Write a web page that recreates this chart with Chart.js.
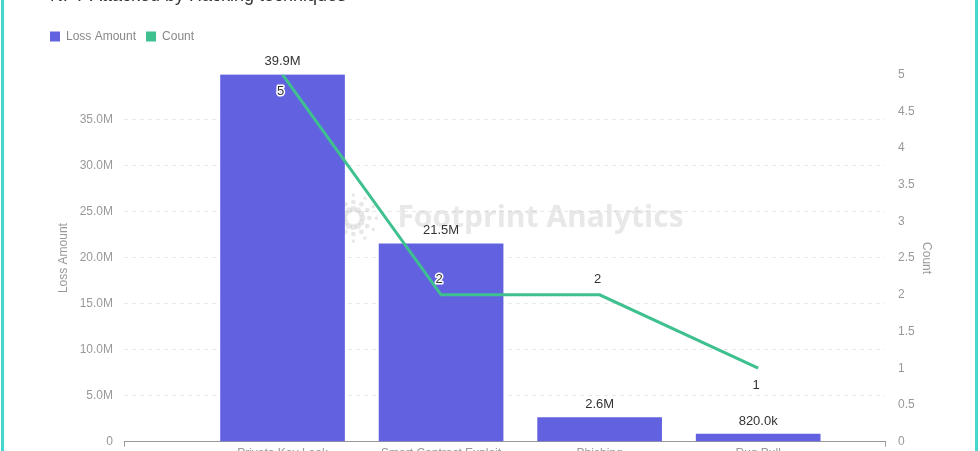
<!DOCTYPE html>
<html>
<head>
<meta charset="utf-8">
<script src="https://cdn.jsdelivr.net/npm/chart.js@4"></script>
<style>
  html, body { margin: 0; padding: 0; width: 980px; height: 451px; overflow: hidden; background: #fff; }
  #wrap { position: absolute; left: 0; top: -20px; width: 980px; height: 520px; }
  #frame { position: absolute; left: 1px; top: -12px; width: 971px; height: 470px; border: 3px solid #45d6cf; border-radius: 10px; pointer-events: none; }
</style>
</head>
<body>
<div id="wrap"><canvas id="chart" width="980" height="520"></canvas></div>
<div id="frame"></div>
<script>
// --- data ---
const categories = ['Private Key Leak', 'Smart Contract Exploit', 'Phishing', 'Rug Pull'];
const lossAmount = [39900000, 21500000, 2600000, 820000];
const counts = [5, 2, 2, 1];
const amountStep = 5000000;
const countLabelSide = ['below', 'above', 'above', 'below'];

Chart.defaults.font.family = '"Liberation Sans", Arial, sans-serif';
Chart.defaults.color = '#999';

const fmtAmount = v => v >= 1e6 ? (v / 1e6).toFixed(1) + 'M' : v >= 1e3 ? (v / 1e3).toFixed(1) + 'k' : String(v);

// watermark behind the series
const watermark = {
    id: 'watermark',
    afterLayout(chart) {
        // title sits a bit right of the legend in the original
        chart.titleBlock.left += 10;
    },
    beforeDatasetsDraw(chart) {
        const { ctx, chartArea: a } = chart;
        const cx = (a.left + a.right) / 2, cy = (a.top + a.bottom) / 2 - 40;
        const text = 'Footprint Analytics';
        ctx.save();
        ctx.font = 'bold 30px "Open Sans", sans-serif';
        const w = ctx.measureText(text).width;
        const x0 = cx - (w + 72) / 2;
        ctx.fillStyle = 'rgba(190,190,190,0.35)';
        ctx.textBaseline = 'middle';
        ctx.fillText(text, x0 + 72, cy);
        const lx = x0 + 28, ly = cy;
        for (let k = 0; k < 12; k++) {
            const ang = k * Math.PI / 6;
            [9, 16, 23].forEach((r, j) => {
                ctx.beginPath();
                ctx.arc(lx + Math.cos(ang) * r, ly + Math.sin(ang) * r, 3 - j * 0.6, 0, Math.PI * 2);
                ctx.fill();
            });
        }
        ctx.restore();
    }
};

// value labels on bars and line
const valueLabels = {
    id: 'valueLabels',
    afterDatasetsDraw(chart) {
        const ctx = chart.ctx;
        ctx.save();
        ctx.font = '13px "Liberation Sans", Arial, sans-serif';
        ctx.textAlign = 'center';
        ctx.textBaseline = 'middle';
        chart.getDatasetMeta(0).data.forEach((bar, i) => {
            ctx.fillStyle = '#333';
            ctx.fillText(fmtAmount(lossAmount[i]), bar.x, bar.y - 13);
        });
        chart.getDatasetMeta(1).data.forEach((pt, i) => {
            const y = pt.y + (countLabelSide[i] === 'below' ? 17 : -15);
            ctx.lineWidth = 3;
            ctx.lineJoin = 'round';
            ctx.strokeStyle = '#fff';
            ctx.strokeText(String(counts[i]), pt.x - 2, y);
            ctx.fillStyle = '#333';
            ctx.fillText(String(counts[i]), pt.x - 2, y);
        });
        ctx.restore();
    }
};

new Chart(document.getElementById('chart'), {
    data: {
        datasets: [
            {
                type: 'bar', label: 'Loss Amount', yAxisID: 'y', order: 2,
                data: lossAmount.map((v, i) => ({ x: i + 1, y: v })),
                backgroundColor: '#6262e1', barThickness: 124
            },
            {
                type: 'line', label: 'Count', yAxisID: 'y1', order: 1,
                data: counts.map((v, i) => ({ x: i + 1, y: v })),
                borderColor: '#3ec08f', backgroundColor: '#3ec08f', borderWidth: 3, pointRadius: 0, tension: 0
            }
        ]
    },
    options: {
        responsive: false,
        animation: false,
        layout: { padding: { left: 40, right: 41, top: 0, bottom: 39 } },
        plugins: {
            title: {
                display: true, text: 'NFT Attacked by Hacking techniques', align: 'start',
                color: '#333', font: { size: 18, weight: 'normal' }, padding: { top: 5, bottom: 14 }
            },
            subtitle: { display: true, text: '', weight: 500, font: { size: 10, lineHeight: 1 }, padding: { top: 0, bottom: 12 } },
            legend: {
                align: 'start',
                labels: {
                    boxWidth: 10, boxHeight: 10, color: '#888', font: { size: 12 }, padding: 10,
                    generateLabels: chart => Chart.defaults.plugins.legend.labels.generateLabels(chart).map(l => ({ ...l, lineWidth: 0 })),
                    sort: (a, b) => a.datasetIndex - b.datasetIndex
                }
            },
            tooltip: { enabled: false }
        },
        scales: {
            x: {
                type: 'linear', offset: false, min: 0, max: categories.length + 0.8,
                afterBuildTicks: s => { s.ticks = [0, ...categories.map((c, i) => i + 1), categories.length + 0.8].map(v => ({ value: v })); },
                ticks: { callback: v => categories[v - 1] ?? '', autoSkip: false, maxRotation: 0, color: '#999', padding: 0 },
                grid: { offset: false, drawOnChartArea: false, tickLength: 5, color: c => (c.index === 0 || c.index === categories.length + 1) ? '#999' : 'rgba(0,0,0,0)' },
                border: { color: '#999' }
            },
            y: {
                position: 'left', min: 0, max: Math.max(...lossAmount),
                afterBuildTicks: s => {
                    const t = [];
                    for (let v = 0; v <= s.max; v += amountStep) t.push({ value: v });
                    s.ticks = t;
                },
                afterFit: s => { s.width = 84; },
                ticks: { callback: v => v === 0 ? '0' : fmtAmount(v), color: '#999', padding: 11 },
                grid: { color: '#e8e8e8', drawTicks: false },
                border: { display: false, dash: [4, 4] },
                title: { display: true, text: 'Loss Amount', color: '#999', font: { size: 12 }, padding: { top: 16, bottom: 6 } }
            },
            y1: {
                position: 'right', min: 0, max: 5,
                afterFit: s => { s.width = 54; },
                ticks: { stepSize: 0.5, callback: v => String(v), color: '#999', padding: 13 },
                grid: { display: false, drawTicks: false },
                border: { display: false },
                title: { display: true, text: 'Count', color: '#999', font: { size: 12 }, padding: { top: 5, bottom: 5 } }
            }
        }
    },
    plugins: [watermark, valueLabels]
});
</script>
</body>
</html>
